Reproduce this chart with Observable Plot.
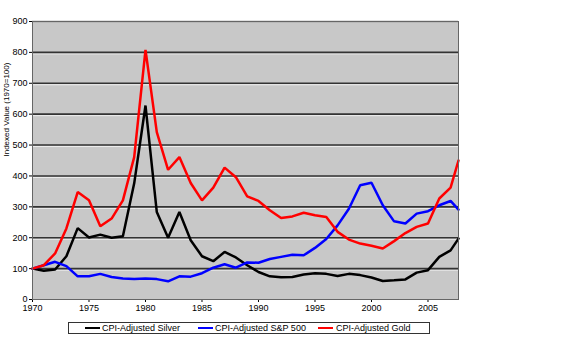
<!DOCTYPE html>
<html><head><meta charset="utf-8">
<script src="https://cdn.jsdelivr.net/npm/d3@7"></script>
<script src="https://cdn.jsdelivr.net/npm/@observablehq/plot@0.6"></script>
<style>
body{margin:0;background:#fff;font-family:"Liberation Sans",Arial,sans-serif;}
#chart svg{display:block;}
#legend{position:relative;margin-left:68px;margin-top:6px;width:360px;height:10px;border:1px solid #333;font-size:9px;line-height:10px;color:#000;}
#legend .sw{position:absolute;top:4px;width:15px;height:2px;}
#legend .lb{position:absolute;top:0;white-space:nowrap;}
</style></head><body>
<div id="chart"></div>
<div id="legend"></div>
<script>
const years  = [1970,1971,1972,1973,1974,1975,1976,1977,1978,1979,1980,1981,1982,1983,1984,1985,1986,1987,1988,1989,1990,1991,1992,1993,1994,1995,1996,1997,1998,1999,2000,2001,2002,2003,2004,2005,2006,2007,2007.7];
const silver = [100,93,97,140,231,201,210,200,205,376,628,283,200,283,192,140,124,154,136,111,89,75,72,73,81,85,83,76,83,79,71,60,62,65,87,95,138,159,197];
const sp500  = [100,111,122,108,75,75,83,73,68,66,68,66,59,75,74,85,103,114,103,120,119,131,138,145,143,167,196,240,294,370,378,305,253,246,278,286,305,319,291];
const gold   = [100,111,149,230,348,321,237,262,321,461,808,542,420,461,377,321,362,427,396,334,319,289,264,269,281,273,267,219,194,181,174,165,189,215,235,246,327,362,450];
const seriesNames  = ["CPI-Adjusted Silver","CPI-Adjusted S&P 500","CPI-Adjusted Gold"];
const seriesColors = ["#000000","#0000ff","#ff0000"];
const yTicks = [0,100,200,300,400,500,600,700,800,900];
const xTicks = [1970,1975,1980,1985,1990,1995,2000,2005];
const yLabel = "Indexed Value (1970=100)";

const rows = [];
[silver, sp500, gold].forEach((vals, i) =>
  vals.forEach((v, j) => rows.push({year: years[j], value: v, series: seriesNames[i]})));

const grid = yTicks.slice(1, -1);

const chart = Plot.plot({
  width: 563, height: 316,
  marginLeft: 32, marginRight: 105, marginTop: 21, marginBottom: 17,
  style: {fontFamily: "Liberation Sans, Arial, sans-serif", fontSize: "9px", background: "#fff", color: "#000", overflow: "visible"},
  x: {domain: [1970, 2007.7], ticks: xTicks, tickFormat: "d", tickSize: 3, tickPadding: 2, label: null},
  y: {domain: [0, 900], ticks: yTicks, tickSize: 3, tickPadding: 2, label: null},
  color: {domain: seriesNames, range: seriesColors},
  marks: [
    Plot.frame({fill: "#c8c8c8", stroke: null}),
    Plot.ruleY(grid, {stroke: "#efefef", strokeWidth: 1, dy: 1.5}),
    Plot.ruleY(grid, {stroke: "#333", strokeWidth: 1.6}),
    Plot.ruleY([900], {stroke: "#888", strokeWidth: 1.5}),
    Plot.line(rows, {x: "year", y: "value", z: "series", stroke: "series", strokeWidth: 2.5, strokeLinejoin: "miter"}),
    Plot.frame({stroke: "#666", strokeWidth: 1}),
    Plot.text([yLabel], {text: d => d, frameAnchor: "left", dx: -26, dy: -4, rotate: -90, fontSize: 8, fill: "#000"})
  ]
});
document.getElementById("chart").appendChild(chart);

const legend = document.getElementById("legend");
const swLeft = [16, 129, 249];
const lbLeft = [33, 146, 267];
seriesNames.forEach((name, i) => {
  const sw = document.createElement("div");
  sw.className = "sw";
  sw.style.left = swLeft[i] + "px";
  sw.style.background = seriesColors[i];
  legend.appendChild(sw);
  const lb = document.createElement("div");
  lb.className = "lb";
  lb.style.left = lbLeft[i] + "px";
  lb.textContent = name;
  legend.appendChild(lb);
});
</script>
</body></html>
